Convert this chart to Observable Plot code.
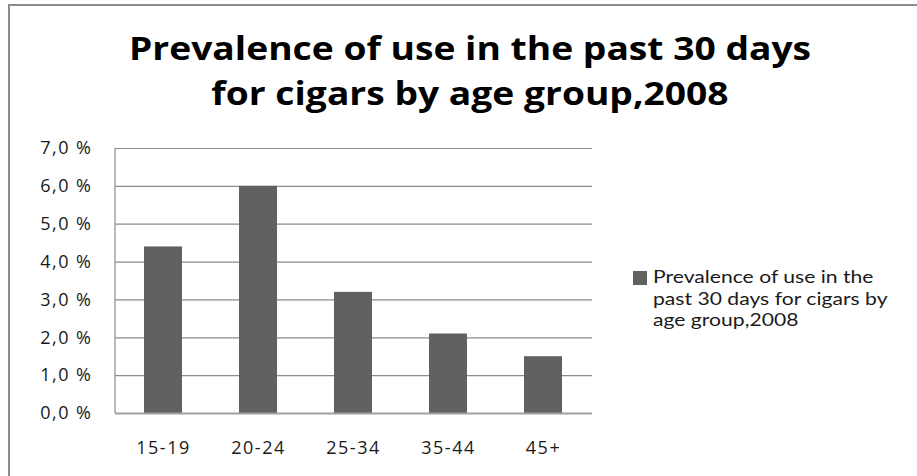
<!DOCTYPE html>
<html>
<head>
<meta charset="utf-8">
<script src="https://cdn.jsdelivr.net/npm/d3@7"></script>
<script src="https://cdn.jsdelivr.net/npm/@observablehq/plot@0.6"></script>
<style>
  html, body { margin: 0; padding: 0; background: #fff; width: 917px; height: 476px; overflow: hidden; }
  #frame { position: absolute; left: 8px; top: 4px; width: 1000px; height: 600px;
           border-left: 2px solid #8c8c8c; border-top: 2px solid #8c8c8c; box-sizing: border-box; }
  #title { position: absolute; left: 0; width: 940px; top: 25px; text-align: center;
           font-family: "Open Sans", sans-serif; font-weight: bold; font-size: 32.5px; line-height: 45px;
           color: #000; transform: scaleX(1.145); transform-origin: 470px 0; }
  #chart { position: absolute; left: 0; top: 0; }
  #chart svg text { letter-spacing: 1.5px; font-size: 18px; }
  #legend { position: absolute; left: 633px; top: 266px; font-family: Lato, "Open Sans", sans-serif;
            font-size: 17.6px; line-height: 21.5px; color: #1a1a1a; }
  #legend .sw { position: absolute; left: 0; top: 5px; width: 14px; height: 14px; background: #616161; }
  #legend .tx { position: absolute; left: 20px; top: 0; width: 290px; white-space: nowrap;
                transform: scaleX(1.2); transform-origin: 0 0; }
</style>
</head>
<body>
<div id="frame"></div>
<div id="title">Prevalence of use in the past 30 days<br>for cigars by age group,2008</div>
<div id="chart"></div>
<div id="legend"><div class="sw"></div><div class="tx">Prevalence of use in the<br>past 30 days for cigars by<br>age group,2008</div></div>
<script>
const ageGroups = ["15-19", "20-24", "25-34", "35-44", "45+"];
const prevalence = [4.4, 6.0, 3.2, 2.1, 1.5];
const yTicks = [0, 1, 2, 3, 4, 5, 6, 7];
const seriesName = "Prevalence of use in the past 30 days for cigars by age group,2008";

const data = ageGroups.map((g, i) => ({group: g, value: prevalence[i]}));

// left vertical axis line drawn from the y scale
function leftAxisLine(index, scales, values, dims) {
  const [y0, y1] = [scales.y(0), scales.y(7)];
  const x = dims.marginLeft;
  const ns = "http://www.w3.org/2000/svg";
  const line = document.createElementNS(ns, "line");
  line.setAttribute("x1", x); line.setAttribute("x2", x);
  line.setAttribute("y1", y0); line.setAttribute("y2", y1);
  line.setAttribute("stroke", "#8c8c8c");
  line.setAttribute("stroke-width", 1.2);
  return line;
}

const chart = Plot.plot({
  width: 917,
  height: 476,
  marginLeft: 115,
  marginRight: 325,
  marginTop: 148,
  marginBottom: 63,
  style: {fontFamily: "'Open Sans', sans-serif", fontSize: "18px", background: "transparent"},
  x: {domain: ageGroups, paddingInner: 0.6, paddingOuter: 0.3, label: null},
  y: {domain: [0, 7], label: null},
  marks: [
    Plot.gridY(yTicks, {stroke: "#8c8c8c", strokeOpacity: 1, strokeWidth: 1.2}),
    Plot.barY(data, {x: "group", y: "value", fill: "#616161", title: d => seriesName}),
    Plot.ruleY([0], {stroke: "#a0a0a0", strokeWidth: 1.8}),
    leftAxisLine,
    Plot.axisY({ticks: yTicks, tickSize: 0, tickPadding: 23, fontSize: 18, fill: "#1a1a1a",
                tickFormat: d => d.toFixed(1).replace(".", ",") + " %", label: null}),
    Plot.axisX({tickSize: 0, tickPadding: 28, fontSize: 18, fill: "#1a1a1a", label: null})
  ]
});
document.getElementById("chart").appendChild(chart);
</script>
</body>
</html>
